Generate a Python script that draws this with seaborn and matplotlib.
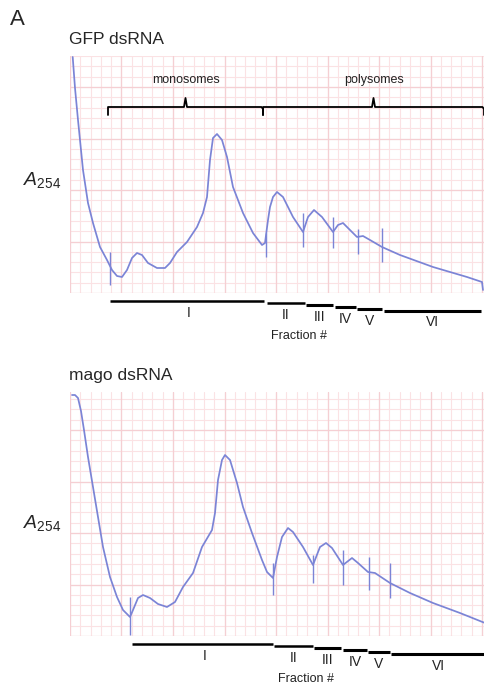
import numpy as np
import pandas as pd
import matplotlib.pyplot as plt
import seaborn as sns

# Styl
sns.set_style('white')
plt.rcParams['font.family'] = ['Liberation Sans', 'DejaVu Sans']
plt.rcParams['mathtext.fontset'] = 'custom'
plt.rcParams['mathtext.it'] = 'Liberation Sans:italic'
plt.rcParams['mathtext.rm'] = 'Liberation Sans'

# Data - GFP dsRNA (poloha gradientu, A254 v ľubovoľných jednotkách)
gfp_x = [2.7, 5, 8, 10, 13, 18, 23, 30, 37, 42, 47, 52, 57, 62, 67, 72, 78, 87, 95,
         100, 107, 117, 127, 133, 137, 140, 143, 147, 152, 157, 163, 173, 183,
         192, 195, 198, 200, 203, 207, 213, 223, 233, 238, 244, 252, 263, 268,
         273, 280, 287, 293, 300, 312, 330, 363, 397, 412, 413]
gfp_y = [236, 205, 173, 153, 123, 90, 70, 46, 33, 23, 17, 16, 23, 35, 40, 38, 30, 25, 25,
         30, 41, 51, 66, 80, 96, 133, 155, 159, 153, 136, 106, 80, 60,
         48, 50, 73, 86, 96, 101, 96, 76, 61, 76, 83, 76, 61, 68,
         70, 63, 56, 57, 53, 46, 38, 26, 16, 11, 3]

# Data - mago dsRNA
mago_x = [2, 5, 8, 11, 14, 18, 23, 28, 33, 40, 47, 53, 60, 63, 68, 73, 80, 88, 97,
          105, 113, 123, 132, 142, 145, 148, 152, 155, 160, 167, 173, 182, 192,
          197, 203, 207, 212, 218, 223, 233, 243, 250, 256, 262, 273, 282, 288,
          298, 305, 320, 340, 363, 390, 415]
mago_y = [241, 241, 238, 225, 206, 179, 149, 119, 89, 59, 39, 26, 19, 26, 38, 41, 38, 32, 29,
          34, 49, 63, 89, 106, 123, 156, 176, 181, 176, 153, 129, 103, 76,
          64, 58, 79, 99, 108, 104, 89, 71, 89, 93, 88, 71, 78, 73,
          64, 63, 53, 43, 33, 23, 13]

# Značky frakcií na krivke (poloha, dolný a horný koniec)
gfp_marks = [40, 196, 233, 263, 288, 312]
gfp_mark_lo = [8, 36, 46, 45, 39, 31]
gfp_mark_hi = [41, 60, 80, 76, 64, 65]
mago_marks = [60, 203, 243, 273, 299, 320]
mago_mark_lo = [1, 41, 53, 51, 46, 38]
mago_mark_hi = [39, 73, 81, 86, 79, 73]

# Frakcie pod grafom
fraction_labels = ['I', 'II', 'III', 'IV', 'V', 'VI']
gfp_frac_start = [40, 197, 236, 265, 287, 314]
gfp_frac_end = [194, 235, 263, 286, 312, 411]
mago_frac_start = [62, 204, 244, 273, 298, 321]
mago_frac_end = [203, 243, 271, 297, 320, 415]

line_col = '#7b84d6'


def panel(ax, x, y, marks, lo, hi, starts, ends, ymax, title):
    ax.set_xlim(0, 415)
    ax.set_ylim(0, ymax)
    # milimetrový papier
    for v in np.arange(0, 416, 10.3):
        ax.axvline(v, color='#fbe2e4', lw=0.8, zorder=0)
    for v in np.arange(0, ymax, 10.3):
        ax.axhline(v, color='#fbe2e4', lw=0.8, zorder=0)
    for v in np.arange(0, 416, 51.5):
        ax.axvline(v, color='#f5cfd3', lw=0.9, zorder=0)
    for v in np.arange(0, ymax, 51.5):
        ax.axhline(v, color='#f5cfd3', lw=0.9, zorder=0)

    df = pd.DataFrame({'x': x, 'y': y})
    sns.lineplot(data=df, x='x', y='y', sort=False, estimator=None, ax=ax,
                 color=line_col, lw=1.25, zorder=3, solid_joinstyle='round')
    ax.vlines(marks, lo, hi, color=line_col, lw=1.0, zorder=3)

    # čiary frakcií
    n = len(starts)
    for i in range(n):
        yb = -8 - 1.9 * i
        ax.plot([starts[i], ends[i]], [yb, yb], color='black', lw=1.8 if i < 2 else 2.2,
                clip_on=False, solid_capstyle='butt')
        ax.text((starts[i] + ends[i]) / 2 + (2 if i == 0 else 0), yb - 5,
                fraction_labels[i], ha='center', va='top', fontsize=10, color='#222222')
    ax.text((starts[1] + ends[1]) / 2 + 13, -37, 'Fraction #', ha='center', va='top',
            fontsize=9, color='#222222')

    ax.text(-1, ymax + 9, title, ha='left', va='bottom', fontsize=12.5)
    ax.text(-47, 113, r'$\mathit{A}_{\mathrm{254}}$', ha='left', va='center', fontsize=14)

    ax.set_xlabel('')
    ax.set_ylabel('')
    ax.set_xticks([])
    ax.set_yticks([])
    for s in ax.spines.values():
        s.set_visible(False)


fig = plt.figure(figsize=(4.85, 6.92), dpi=100)
ax1 = fig.add_axes([70 / 485, 1 - 293 / 692, 415 / 485, 237 / 692])
ax2 = fig.add_axes([70 / 485, 1 - 636 / 692, 415 / 485, 244 / 692])

panel(ax1, gfp_x, gfp_y, gfp_marks, gfp_mark_lo, gfp_mark_hi,
      gfp_frac_start, gfp_frac_end, 237, 'GFP dsRNA')
panel(ax2, mago_x, mago_y, mago_marks, mago_mark_lo, mago_mark_hi,
      mago_frac_start, mago_frac_end, 244, 'mago dsRNA')

# zátvorky monozómy / polyzómy
brackets = [(38, 193, 'monosomes'), (193, 414, 'polysomes')]
for a, b, lab in brackets:
    mid = (a + b) / 2
    ax1.plot([a, a, mid - 1.5, mid, mid + 1.5, b - 1.5, b, b],
             [178, 186, 186, 195, 186, 186, 184, 178],
             color='black', lw=1.3, clip_on=False)
    ax1.text(mid + 1, 207, lab, ha='center', va='bottom', fontsize=9, color='#222222')

fig.text(10 / 485, 1 - 30 / 692, 'A', fontsize=16, ha='left', va='bottom')

plt.savefig('out.png', dpi=100)
